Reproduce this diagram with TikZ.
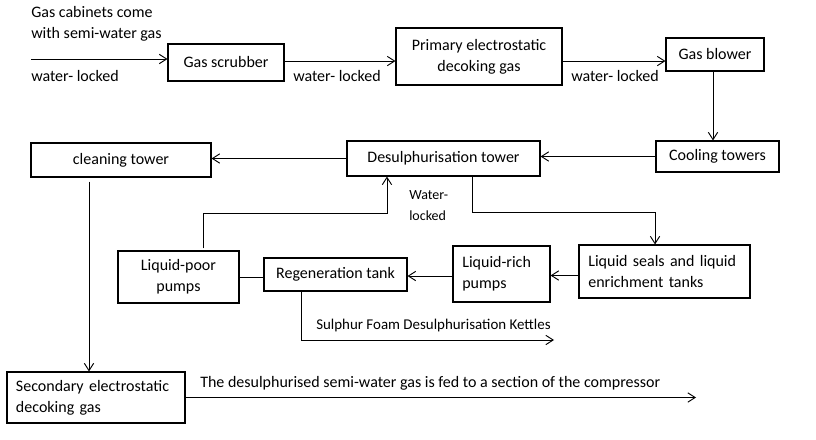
\documentclass[tikz,border=0pt]{standalone}
\usepackage{fontspec}
\setmainfont{Carlito}
\usetikzlibrary{arrows.meta}
\tikzset{
BOX/.style={draw=black,line width=0.8pt,inner sep=0pt,align=center,font=\fontsize{12}{15.75}\selectfont},
LBOX/.style={BOX,align=left,inner xsep=7pt,text width=#1},
FLOW/.style={draw=black,line width=0.7pt,->},
LINK/.style={draw=black,line width=0.7pt},
NOTE/.style={inner sep=0pt,anchor=west,align=left,font=\fontsize{12}{15.75}\selectfont},
}

\begin{document}
\begin{tikzpicture}[x=0.75pt,y=-0.75pt,>={Straight Barb[length=5.5pt,width=7pt]}]
	\useasboundingbox (0,0) rectangle (816,439);
	%top row
	\node[BOX,minimum width=87pt,minimum height=27.75pt] (scrubber) at (226,62.5) {Gas scrubber};
	\node[BOX,minimum width=124.5pt,minimum height=42.75pt] (primary) at (479,56.5) {Primary electrostatic\\decoking gas};
	\node[BOX,minimum width=73.5pt,minimum height=24.75pt] (blower) at (715,54.5) {Gas blower};
	%second row
	\node[BOX,minimum width=92.25pt,minimum height=23.25pt] (cooling) at (717.5,156.5) {Cooling towers};
	\node[BOX,minimum width=144.75pt,minimum height=26.25pt] (desulph) at (443.5,158.5) {Desulphurisation tower};
	\node[BOX,minimum width=135pt,minimum height=25.5pt] (cleaning) at (121,160) {cleaning tower};
	%liquid loop
	\node[BOX,minimum width=90.75pt,minimum height=39pt] (poor) at (178.5,277) {Liquid-poor\\pumps};
	\node[BOX,minimum width=107.25pt,minimum height=24.75pt] (regen) at (335.5,274.5) {Regeneration tank};
	\node[LBOX=58.75pt,minimum height=42pt] (rich) at (501.5,274) {Liquid-rich\\pumps};
	\node[LBOX=114.25pt,minimum height=39.75pt] (seals) at (664.5,271.5) {Liquid seals and liquid\\enrichment tanks};
	%bottom
	\node[LBOX=120pt,inner xsep=6.75pt,minimum height=38.25pt] (second) at (96,397.5) {Secondary electrostatic\\decoking gas};
	%labels
	\node[NOTE] (source) at (31,23.5) {Gas cabinets come\\with semi-water gas};
	\node[NOTE] (lockA) at (31,76) {water- locked};
	\node[NOTE] (lockB) at (293,76) {water- locked};
	\node[NOTE] (lockC) at (571,76) {water- locked};
	\node[NOTE,font=\fontsize{10.5}{15.75}\selectfont] (lockD) at (409,205.5) {Water-\\locked};
	\node[NOTE,font=\fontsize{11.2}{13}\selectfont] (kettlelabel) at (316,326) {Sulphur Foam Desulphurisation Kettles};
	\node[NOTE] (outlabel) at (200,383) {The desulphurised semi-water gas is fed to a section of the compressor};
	\coordinate (feed) at (31,59);
	\coordinate (kettle) at (554,340);
	\coordinate (compressor) at (696,397.5);
	%gas line
	\draw[FLOW] (feed) -- (feed -| scrubber.west);
	\draw[FLOW] ([yshift=1.1pt]scrubber.east) -- ([yshift=1.1pt]scrubber.east -| primary.west);
	\draw[FLOW] ([yshift=-3.4pt]primary.east) -- ([yshift=-3.4pt]primary.east -| blower.west);
	\draw[FLOW] ([xshift=-1.5pt]blower.south) -- ([xshift=-1.5pt]blower.south |- cooling.north);
	\draw[FLOW] (cooling.west) -- (cooling.west -| desulph.east);
	\draw[FLOW] (desulph.west) -- (desulph.west -| cleaning.east);
	\draw[FLOW] ([xshift=-24pt,yshift=-3pt]cleaning.south) -- ([xshift=-24pt]cleaning.south |- second.north);
	\draw[FLOW] (second.east) -- (compressor);
	%liquid line
	\draw[FLOW] ([xshift=21.4pt]desulph.south) -- ++(0,36) -| ([xshift=-7.1pt]seals.north);
	\draw[FLOW] ([yshift=-3pt]seals.west) -- ([yshift=-3pt]seals.west -| rich.east);
	\draw[FLOW] ([yshift=-1.5pt]rich.west) -- ([yshift=-1.5pt]rich.west -| regen.east);
	\draw[LINK] (poor.east) -- (poor.east -| regen.west);
	\draw[FLOW] ([xshift=18.4pt,yshift=1.5pt]poor.north) -- ++(0,-35) -| ([xshift=-42.4pt]desulph.south);
	\draw[FLOW] ([xshift=-25.9pt]regen.south) |- (kettle);
\end{tikzpicture}
\end{document}
